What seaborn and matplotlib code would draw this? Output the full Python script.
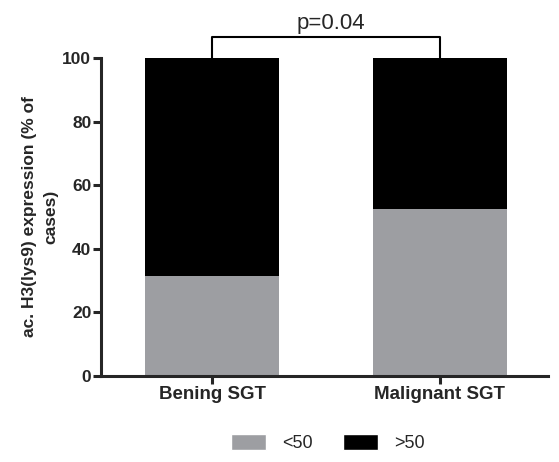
import matplotlib
matplotlib.use("Agg")
import matplotlib.pyplot as plt
import seaborn as sns
import pandas as pd
from matplotlib.patches import Patch

groups = ["Bening SGT", "Malignant SGT"]
low_pct = [31.3, 52.4]      # <50
high_pct = [68.7, 47.6]     # >50
p_text = "p=0.04"

gray = "#9d9ea2"

sns.set_style("ticks")
plt.rcParams["font.family"] = ["Liberation Sans", "DejaVu Sans"]

df = pd.DataFrame({"group": groups, "low": low_pct, "high": high_pct})
df["total"] = df["low"] + df["high"]

fig = plt.figure(figsize=(5.59, 4.62), dpi=100)
ax = fig.add_axes([101 / 559, 1 - 376 / 462, 447 / 559, 318 / 462])

sns.barplot(data=df, x="group", y="total", color="black", width=0.59,
            saturation=1, ax=ax)
sns.barplot(data=df, x="group", y="low", color=gray, width=0.59,
            saturation=1, ax=ax)
for p in ax.patches:
    p.set_edgecolor("none")

ax.set_ylim(0, 100)
ax.set_xlim(-0.487, 1.474)
ax.set_yticks([0, 20, 40, 60, 80, 100])
ax.set_xlabel("")
ax.set_ylabel("ac. H3(lys9) expression (% of\ncases)", fontsize=12.5,
              fontweight="bold", labelpad=3, linespacing=1.5)
sns.despine(ax=ax)
for s in ["left", "bottom"]:
    ax.spines[s].set_linewidth(2.2)
ax.tick_params(width=2.2, length=6, pad=1)
ax.tick_params(axis="y", labelsize=12.5)
ax.tick_params(axis="x", labelsize=13.5)
for lab in ax.get_xticklabels() + ax.get_yticklabels():
    lab.set_fontweight("bold")

# significance bracket
top = df["total"].max()
ax.plot([0, 0, 1, 1], [top, top + 6.6, top + 6.6, top], color="black",
        lw=1.5, clip_on=False)
ax.text(0.52, top + 7.4, p_text, ha="center", va="bottom", fontsize=16)

handles = [Patch(facecolor=gray, label="<50"),
           Patch(facecolor="black", label=">50")]
fig.legend(handles=handles, loc="center", bbox_to_anchor=(328 / 559, 1 - 443 / 462),
           ncol=2, frameon=False, fontsize=13, handlelength=1.9,
           handleheight=1.0, columnspacing=1.7, handletextpad=0.9)

fig.savefig("out.png", dpi=100)
